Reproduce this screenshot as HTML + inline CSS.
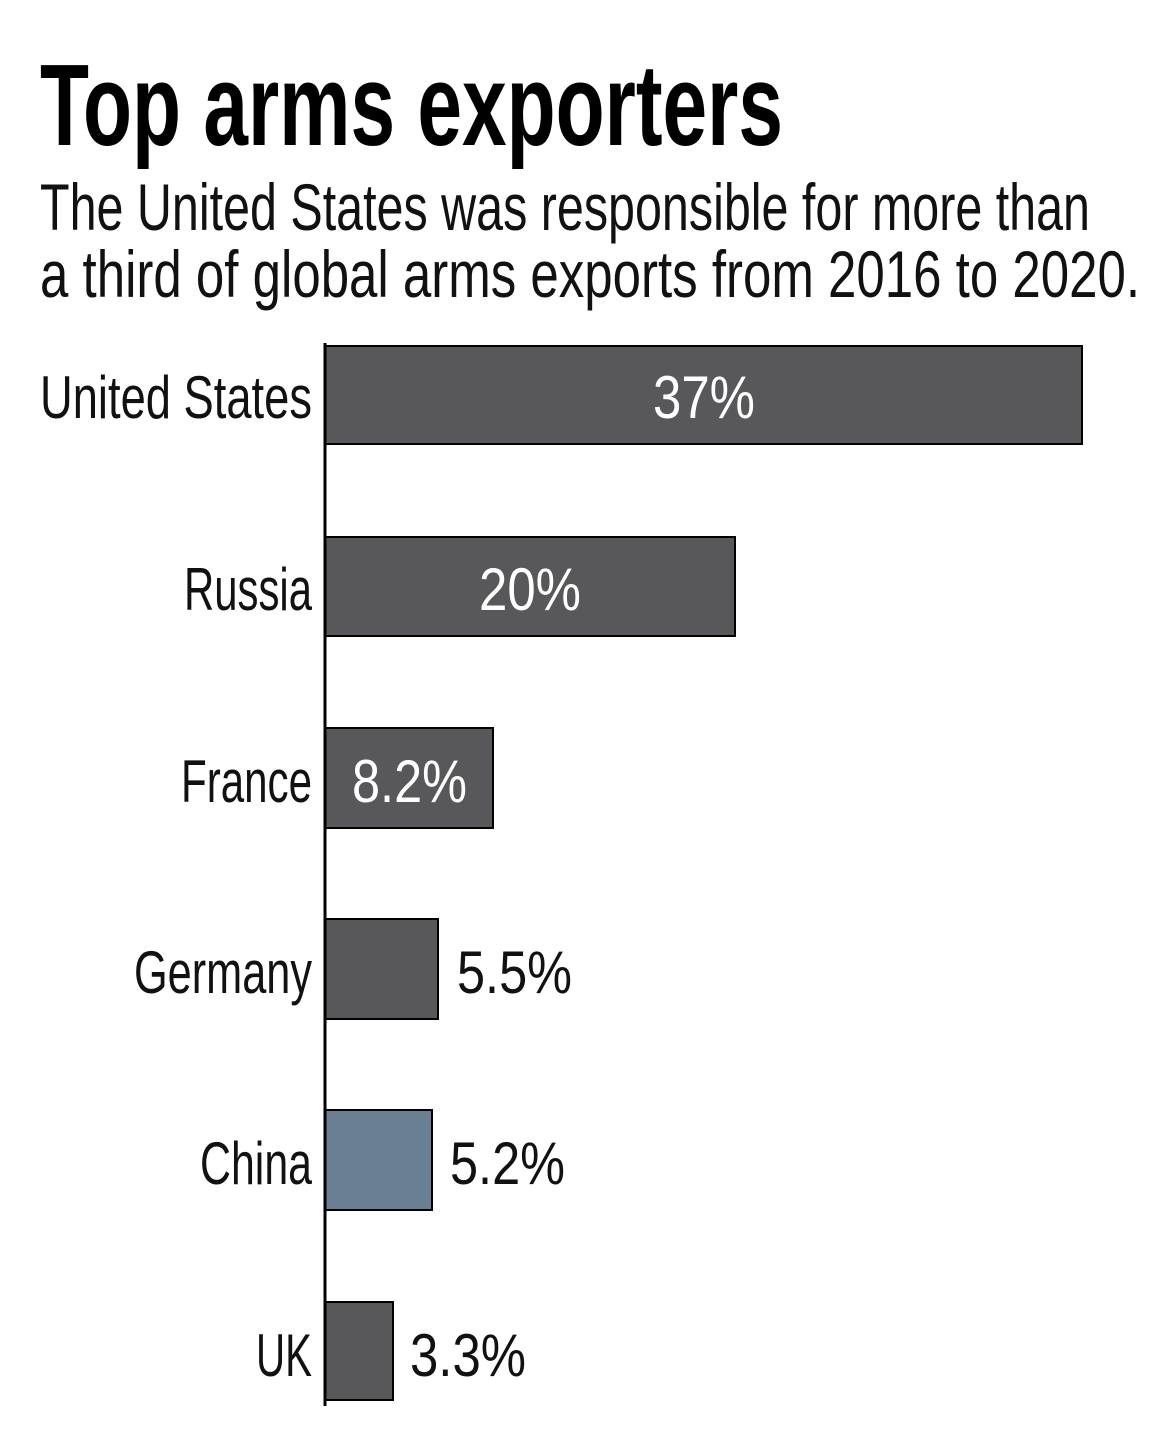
<!DOCTYPE html>
<html><head><meta charset="utf-8"><style>
html,body{margin:0;padding:0;background:#fff;}
svg{display:block;}
text{font-family:"Liberation Sans",sans-serif;}
</style></head><body>
<svg width="1171" height="1452" viewBox="0 0 1171 1452" xmlns="http://www.w3.org/2000/svg">
<text x="40" y="145" font-size="116" font-weight="bold" textLength="743" lengthAdjust="spacingAndGlyphs" fill="#000">Top arms exporters</text>
<text x="40" y="230" font-size="66" textLength="1050" lengthAdjust="spacingAndGlyphs" fill="#111">The United States was responsible for more than</text>
<text x="40" y="297" font-size="66" textLength="1100" lengthAdjust="spacingAndGlyphs" fill="#111">a third of global arms exports from 2016 to 2020.</text>
<g stroke="#000" stroke-width="2">
<rect x="325" y="346" width="757" height="98" fill="#58585a"/>
<rect x="325" y="537" width="410" height="99" fill="#58585a"/>
<rect x="325" y="728" width="168" height="100" fill="#58585a"/>
<rect x="325" y="919" width="113" height="100" fill="#58585a"/>
<rect x="325" y="1110" width="107" height="100" fill="#697f93"/>
<rect x="325" y="1302" width="68" height="98" fill="#58585a"/>
</g>
<line x1="325" y1="343" x2="325" y2="1406" stroke="#000" stroke-width="3"/>
<g font-size="60" fill="#111" text-anchor="end">
<text x="312" y="418" textLength="272" lengthAdjust="spacingAndGlyphs">United States</text>
<text x="312" y="610" textLength="128" lengthAdjust="spacingAndGlyphs">Russia</text>
<text x="312" y="802" textLength="131" lengthAdjust="spacingAndGlyphs">France</text>
<text x="312" y="993" textLength="178" lengthAdjust="spacingAndGlyphs">Germany</text>
<text x="312" y="1184" textLength="112" lengthAdjust="spacingAndGlyphs">China</text>
<text x="312" y="1376" textLength="56" lengthAdjust="spacingAndGlyphs">UK</text>
</g>
<g font-size="60">
<text x="653" y="418" textLength="102" lengthAdjust="spacingAndGlyphs" fill="#fff">37%</text>
<text x="479" y="610" textLength="102" lengthAdjust="spacingAndGlyphs" fill="#fff">20%</text>
<text x="352" y="802" textLength="115" lengthAdjust="spacingAndGlyphs" fill="#fff">8.2%</text>
<text x="457" y="993" textLength="115" lengthAdjust="spacingAndGlyphs" fill="#111">5.5%</text>
<text x="450" y="1184" textLength="115" lengthAdjust="spacingAndGlyphs" fill="#111">5.2%</text>
<text x="410" y="1376" textLength="116" lengthAdjust="spacingAndGlyphs" fill="#111">3.3%</text>
</g>
</svg>
</body></html>
